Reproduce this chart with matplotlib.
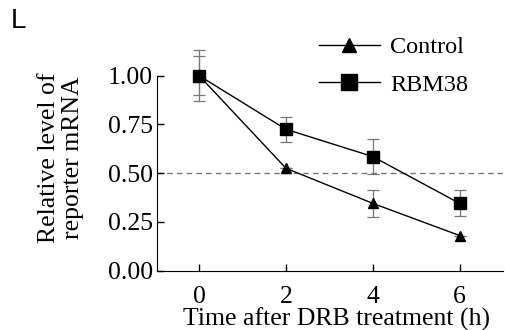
import numpy as np
import matplotlib
matplotlib.use('Agg')
import matplotlib.pyplot as plt

# data
time_h = [0, 2, 4, 6]
control = [1.00, 0.525, 0.345, 0.18]
control_err = [0.13, 0.0, 0.068, 0.0]
rbm38 = [1.00, 0.725, 0.585, 0.345]
rbm38_err = [0.10, 0.065, 0.09, 0.067]
yticks = [0.00, 0.25, 0.50, 0.75, 1.00]
xticks = [0, 2, 4, 6]

plt.rcParams['font.family'] = 'Liberation Serif'

fig = plt.figure(figsize=(5.05, 3.3), dpi=100)
ax = fig.add_axes([0.311, 0.180, 0.685, 0.5906])

ax.axhline(0.5, color='#777777', ls=(0, (4, 3)), lw=1.0, zorder=1)

ax.errorbar(time_h, control, yerr=control_err, fmt='none', ecolor='#777777',
            elinewidth=0.9, capsize=4, capthick=0.9, clip_on=False, zorder=2)
ax.errorbar(time_h, rbm38, yerr=rbm38_err, fmt='none', ecolor='#777777',
            elinewidth=0.9, capsize=4, capthick=0.9, clip_on=False, zorder=2)

l1, = ax.plot(time_h, control, color='black', lw=1.0, marker='^', ms=7,
              clip_on=False, zorder=3, label='Control')
l2, = ax.plot(time_h, rbm38, color='black', lw=1.0, marker='s', ms=8,
              clip_on=False, zorder=4, label='RBM38')

ax.set_xlim(-0.97, 7.0)
ax.set_ylim(0, 1.0)
ax.set_xticks(xticks)
ax.set_xticklabels([str(t) for t in xticks])
ax.set_yticks(yticks)
ax.set_yticklabels(['%.2f' % v for v in yticks])
ax.tick_params(direction='in', length=5, width=1, labelsize=18.5, pad=3)
ax.tick_params(axis='x', pad=11)

ax.spines['top'].set_visible(False)
ax.spines['right'].set_visible(False)

ax.set_xlabel('Time after DRB treatment (h)', fontsize=18.5)
ax.xaxis.set_label_coords(0.52, -0.188)
ax.set_ylabel('Relative level of\nreporter mRNA', fontsize=18.5, linespacing=1.15)
ax.yaxis.set_label_coords(-0.21, 0.58)

leg = fig.legend(handles=[l1, l2], loc='upper left', bbox_to_anchor=(0.612, 0.919),
                 frameon=False, fontsize=17.5, handlelength=2.5, handletextpad=0.45,
                 labelspacing=0.62, markerscale=1.45, borderaxespad=0)

fig.text(0.022, 0.975, 'L', fontsize=20, family='Liberation Sans', va='top')

fig.savefig('out.png', dpi=100)
